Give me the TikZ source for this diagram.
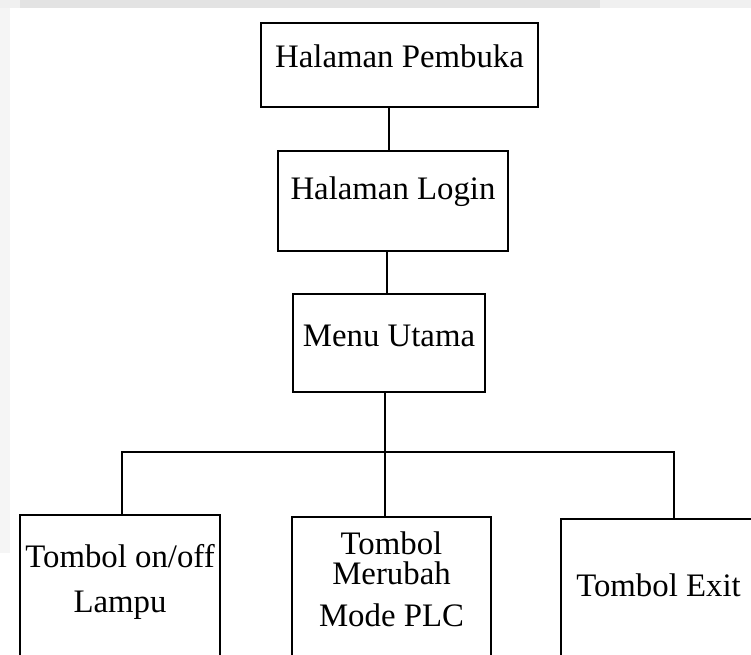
\documentclass[tikz,border=0pt]{standalone}
\usepackage{fontspec}
\setmainfont{Liberation Serif}
\newcommand\pxu{0.03cm}
\tikzset{
  kotak/.style={draw, line width=1.7pt, inner sep=0pt, align=center,
    font=\fontsize{28}{25.5}\selectfont},
  garis/.style={line width=1.7pt}
}
\begin{document}
\begin{tikzpicture}[x=0.03cm, y=-0.03cm]
\useasboundingbox (0,0) rectangle (751,655);
\clip (0,0) rectangle (751,655);
% latar
\fill[white] (0,0) rectangle (751,655);
\fill[gray!8] (0,0) rectangle (10,553);
\fill[gray!12] (0,0) rectangle (751,8);
\fill[gray!22] (20,0) rectangle (600,8);
% kotak menu
\node[kotak, minimum width=277*\pxu, minimum height=84*\pxu, text height=22*\pxu, text depth=16*\pxu] (pembuka) at (399.5,65) {Halaman Pembuka};
\node[kotak, minimum width=230*\pxu, minimum height=100*\pxu, text height=22*\pxu, text depth=24*\pxu] (login) at (393,201) {Halaman Login};
\node[kotak, minimum width=192*\pxu, minimum height=98*\pxu, text height=22*\pxu, text depth=14*\pxu] (menu) at (389,343) {Menu Utama};
\node[kotak, minimum width=200*\pxu, minimum height=205*\pxu, text height=67*\pxu, text depth=78*\pxu] (lampu) at (120,617.5) {Tombol on/off\\[12.8pt]Lampu};
\node[kotak, minimum width=199*\pxu, minimum height=203*\pxu, text height=94*\pxu, text depth=79*\pxu] (plc) at (391.5,618.5) {Tombol\\Merubah\\[10.2pt]Mode PLC};
\node[kotak, minimum width=195*\pxu, minimum height=201*\pxu, text height=22*\pxu, text depth=69*\pxu] (exit) at (658.5,619.5) {Tombol Exit};
% garis penghubung
\coordinate (t1) at (389,0);
\coordinate (t2) at (387,0);
\coordinate (bus) at (385,452);
\coordinate (kiri) at (122,452);
\coordinate (kanan) at (674,452);
\draw[garis] (t1 |- pembuka.south) -- (t1 |- login.north);
\draw[garis] (t2 |- login.south) -- (t2 |- menu.north);
\draw[garis] (bus |- menu.south) -- (bus |- plc.north);
\draw[garis] (kiri |- lampu.north) -- (kiri) -- (kanan) -- (kanan |- exit.north);
\end{tikzpicture}
\end{document}
